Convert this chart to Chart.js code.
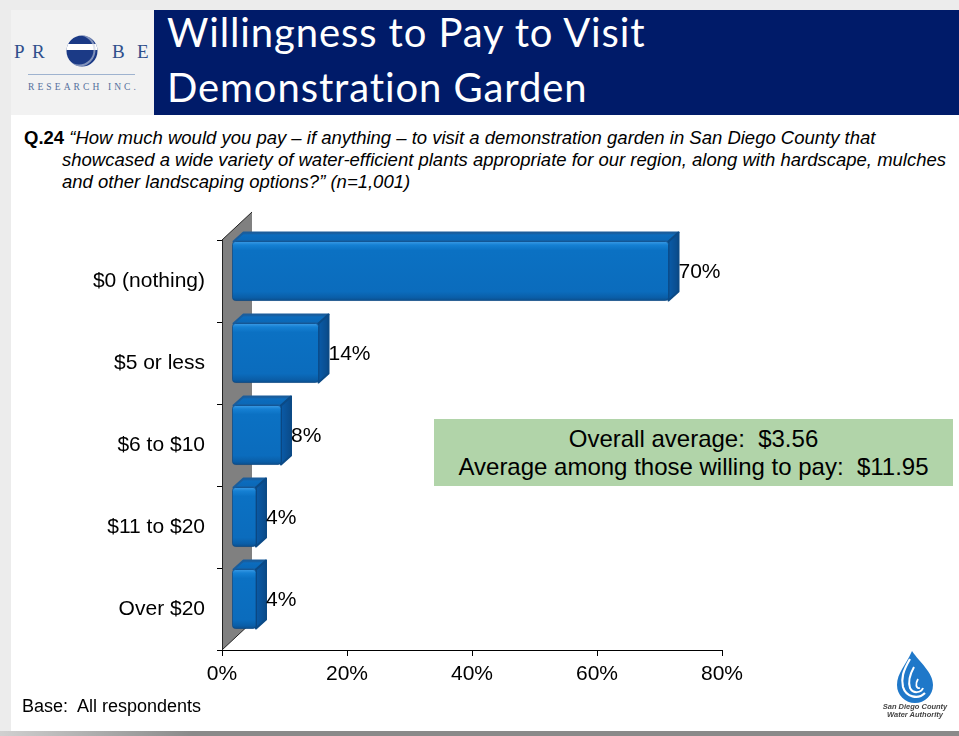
<!DOCTYPE html>
<html>
<head>
<meta charset="utf-8">
<script src="https://cdn.jsdelivr.net/npm/chart.js@4.4.1/dist/chart.umd.min.js"></script>
<style>
  body { margin: 0; width: 959px; height: 736px; overflow: hidden; position: relative;
         background: #ececec; font-family: "Liberation Sans", Arial, sans-serif; }
  #slide { position: absolute; left: 11px; top: 10px; width: 948px; height: 721px; background: #fff; }
  #logoArea { position: absolute; left: 11px; top: 10px; width: 143px; height: 105px; background: #f2f2f2; }
  #titleBox { position: absolute; left: 154px; top: 10px; width: 805px; height: 105px; background: #001b69; }
  .title { position: absolute; left: 167px; color: #fff; font-family: Lato, "Open Sans", sans-serif;
           font-size: 40px; line-height: 40px; letter-spacing: 0.9px; white-space: nowrap;
           font-variant-ligatures: none; }
  #question { position: absolute; left: 24px; top: 127px; font-size: 18.5px; line-height: 22px; color: #000;
              white-space: nowrap; }
  #question i { font-style: italic; }
  #summary { position: absolute; left: 434px; top: 419px; width: 519px; height: 67px; background: #b1d4a9;
             text-align: center; font-size: 24px; line-height: 28px; color: #000; box-sizing: border-box;
             padding-top: 6px; white-space: pre; }
  #base { position: absolute; left: 22px; top: 695px; font-size: 18px; line-height: 22px; color: #000;
          white-space: pre; }
  #bottomBar { position: absolute; left: 0; top: 731px; width: 959px; height: 5px;
               background: linear-gradient(to right, #d0d0d0, #8a8a8a 20%, #8a8a8a); }
  #chart { position: absolute; left: 0; top: 0; }
</style>
</head>
<body>
<div id="slide"></div>
<div id="logoArea"></div>
<div id="titleBox"></div>
<div class="title" style="top:12px">Willingness to Pay to Visit</div>
<div class="title" style="top:67px">Demonstration Garden</div>

<svg style="position:absolute;left:0;top:0" width="160" height="110">
  <defs><clipPath id="ball"><circle cx="82" cy="51" r="15.5"/></clipPath></defs>
  <g font-family="Liberation Serif, serif" font-size="19" fill="#2f4f8c">
    <text x="14" y="58">P</text><text x="32" y="58">R</text>
    <text x="112" y="58">B</text><text x="137" y="58">E</text>
  </g>
  <g clip-path="url(#ball)">
    <rect x="60" y="30" width="45" height="45" fill="#1b3a86"/>
    <rect x="60" y="44" width="45" height="6" fill="#ffffff"/>
    <circle cx="79" cy="50" r="15.5" fill="none" stroke="#c8cfe0" stroke-width="2" opacity="0.6"/>
  </g>
  <line x1="28" y1="74.5" x2="135" y2="74.5" stroke="#9fb3cf" stroke-width="1.2"/>
  <text x="28" y="90" font-family="Liberation Serif, serif" font-size="9.5" letter-spacing="3.1" fill="#55709c">RESEARCH INC.</text>
</svg>

<div id="question"><b>Q.24</b> <i>“How much would you pay – if anything – to visit a demonstration garden in San Diego County that</i><br>
<i style="padding-left:38px">showcased a wide variety of water-efficient plants appropriate for our region, along with hardscape, mulches</i><br>
<i style="padding-left:38px">and other landscaping options?” (n=1,001)</i></div>

<canvas id="chart" width="959" height="736"></canvas>

<div id="summary"></div>
<div id="base">Base:  All respondents</div>

<svg style="position:absolute;left:870px;top:645px" width="90" height="80">
  <path d="M42 6 C36 20 27 28 27 40 A18 18 0 0 0 63 40 C63 27 50 18 42 6 Z" fill="#1f78c9"/>
  <path d="M40 14 C33 26 31 33 33 42 C36 52 48 55 55 48" fill="none" stroke="#fff" stroke-width="2.2"/>
  <path d="M44 22 C39 31 38 37 40 43 C43 49 51 48 53 43" fill="none" stroke="#fff" stroke-width="2"/>
  <path d="M48 34 C45 39 46 44 50 43" fill="none" stroke="#fff" stroke-width="1.8"/>
  <g font-family="Liberation Sans, sans-serif" font-size="7.5" font-weight="bold" font-style="italic" fill="#444" text-anchor="middle">
    <text x="45" y="64">San Diego County</text>
    <text x="45" y="72">Water Authority</text>
  </g>
</svg>

<div id="bottomBar"></div>

<script>
const categories = ["$0 (nothing)", "$5 or less", "$6 to $10", "$11 to $20", "Over $20"];
const shares = [70, 14, 8, 4, 4];
const xTickValues = [0, 20, 40, 60, 80];
const summaryLines = ["Overall average:  $3.56", "Average among those willing to pay:  $11.95"];

document.getElementById("summary").textContent = summaryLines.join("\n");

// grauer Seitenwand-Effekt wie im 3D-Excel-Diagramm
const wallPlugin = {
  id: "wall",
  beforeDatasetsDraw(chart) {
    const { ctx, scales: { x, y } } = chart;
    const x0 = x.getPixelForValue(0);
    const dx = 30, dy = 28;
    ctx.save();
    ctx.beginPath();
    ctx.moveTo(x0, y.bottom);
    ctx.lineTo(x0, y.top);
    ctx.lineTo(x0 + dx, y.top - dy);
    ctx.lineTo(x0 + dx, y.bottom - dy);
    ctx.closePath();
    ctx.fillStyle = "#808080";
    ctx.fill();
    ctx.strokeStyle = "#222";
    ctx.lineWidth = 1;
    ctx.beginPath();
    ctx.moveTo(x0, y.top); ctx.lineTo(x0 + dx, y.top - dy);
    ctx.moveTo(x0, y.bottom); ctx.lineTo(x0 + dx, y.bottom - dy);
    ctx.stroke();
    ctx.beginPath();
    ctx.moveTo(x0 + 0.5, y.top - 1); ctx.lineTo(x0 + 0.5, y.bottom);
    ctx.stroke();
    ctx.restore();
  }
};

// Balken selbst zeichnen (Front, Oberseite, Seite)
const bar3dPlugin = {
  id: "bar3d",
  beforeDatasetDraw() { return false; },
  afterDatasetsDraw(chart) {
    const { ctx } = chart;
    const meta = chart.getDatasetMeta(0);
    const d = 10, dv = 9, shift = 10;
    meta.data.forEach((bar, i) => {
      const p = bar.getProps(["x", "y", "base", "height"], true);
      const fx0 = p.base + shift, fx1 = p.x + 9;
      const fy0 = p.y - p.height / 2 - shift, fy1 = p.y + p.height / 2 - shift;
      ctx.save();
      ctx.lineJoin = "round";

      // Oberseite
      ctx.beginPath();
      ctx.moveTo(fx0 + 1, fy0);
      ctx.lineTo(fx0 + 1 + d, fy0 - dv);
      ctx.lineTo(fx1 + d, fy0 - dv);
      ctx.lineTo(fx1, fy0);
      ctx.closePath();
      const gt = ctx.createLinearGradient(0, fy0 - dv, 0, fy0);
      gt.addColorStop(0, "#1b5f9e");
      gt.addColorStop(0.3, "#0c6cbd");
      gt.addColorStop(1, "#0a67b6");
      ctx.fillStyle = gt; ctx.fill();
      ctx.strokeStyle = "#1a5d9c"; ctx.lineWidth = 2; ctx.stroke();

      // Seite
      ctx.beginPath();
      ctx.moveTo(fx1, fy0);
      ctx.lineTo(fx1 + d, fy0 - dv);
      ctx.lineTo(fx1 + d, fy1 - dv);
      ctx.lineTo(fx1, fy1);
      ctx.closePath();
      const gs = ctx.createLinearGradient(fx1, 0, fx1 + d, 0);
      gs.addColorStop(0, "#0a5ba8");
      gs.addColorStop(1, "#0a4b8a");
      ctx.fillStyle = gs; ctx.fill();
      ctx.strokeStyle = "#0b4a86"; ctx.lineWidth = 2; ctx.stroke();

      // Front
      ctx.beginPath();
      ctx.roundRect(fx0, fy0, fx1 - fx0, fy1 - fy0, 3);
      const gf = ctx.createLinearGradient(0, fy0, 0, fy1);
      gf.addColorStop(0, "#3b9be6");
      gf.addColorStop(0.06, "#1580d3");
      gf.addColorStop(0.15, "#0b71c3");
      gf.addColorStop(0.85, "#0b6cbd");
      gf.addColorStop(0.95, "#0a5ea8");
      gf.addColorStop(1, "#0b4f8d");
      ctx.fillStyle = gf; ctx.fill();
      ctx.strokeStyle = "rgba(10,70,130,0.7)"; ctx.lineWidth = 1; ctx.stroke();

      // Beschriftung
      ctx.fillStyle = "#000";
      ctx.font = "21px 'Liberation Sans', Arial, sans-serif";
      ctx.textAlign = "left";
      ctx.textBaseline = "middle";
      ctx.fillText(shares[i] + "%", fx1 + d, p.y - 9);
      ctx.restore();
    });
  }
};

new Chart(document.getElementById("chart"), {
  type: "bar",
  data: {
    labels: categories,
    datasets: [{ data: shares, backgroundColor: "#0b6cbd", barPercentage: 0.72, categoryPercentage: 1 }]
  },
  options: {
    indexAxis: "y",
    responsive: false,
    animation: false,
    layout: { padding: { top: 240, right: 237, bottom: 40, left: 0 } },
    plugins: { legend: { display: false }, tooltip: { enabled: false } },
    scales: {
      x: {
        min: 0, max: 80,
        afterBuildTicks: s => { s.ticks = xTickValues.map(v => ({ value: v })); },
        afterFit: s => { s.height = 46; },
        ticks: { callback: v => v + "%", color: "#000", padding: 6, maxRotation: 0,
                 font: { family: "'Liberation Sans', Arial, sans-serif", size: 21 } },
        grid: { drawOnChartArea: false, color: "#000", tickLength: 6 },
        border: { color: "#000", width: 1 }
      },
      y: {
        afterFit: s => { s.width = 222; },
        ticks: { color: "#000", padding: 12,
                 font: { family: "'Liberation Sans', Arial, sans-serif", size: 21 } },
        grid: { drawOnChartArea: false, color: "#000", tickLength: 5, offset: true },
        border: { color: "#000", width: 1 }
      }
    }
  },
  plugins: [wallPlugin, bar3dPlugin]
});
</script>
</body>
</html>
